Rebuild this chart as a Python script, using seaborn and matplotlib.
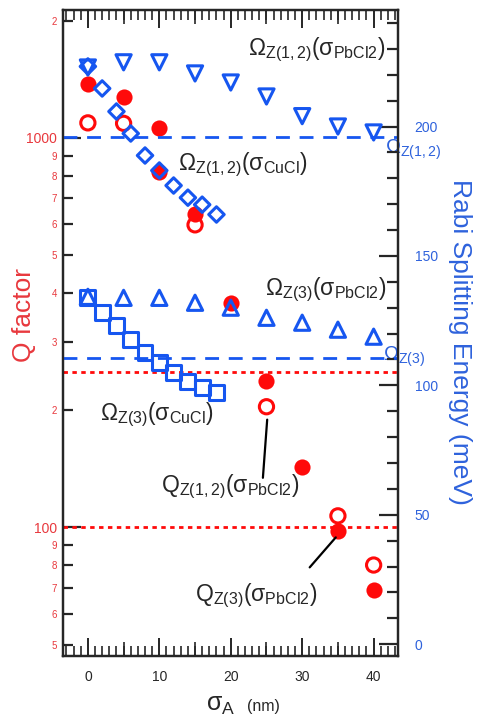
import matplotlib
matplotlib.use("Agg")
import matplotlib.pyplot as plt
import seaborn as sns
import numpy as np
import pandas as pd
from matplotlib.ticker import FixedLocator, FixedFormatter, NullFormatter, MultipleLocator

# ---------------- data ----------------
# Rabi splitting (right axis, meV)
x_pb = [0, 5, 10, 15, 20, 25, 30, 35, 40]
omega12_pb = [222.8, 224.8, 224.8, 220.5, 217.0, 211.6, 204.0, 200.0, 197.7]
omega3_pb = [134.2, 133.8, 133.8, 131.9, 130.0, 126.1, 124.2, 121.5, 118.8]

x_cu = [0, 2, 4, 6, 8, 10, 12, 14, 16, 18]
omega12_cu = [223.2, 214.7, 205.8, 197.3, 188.8, 183.0, 177.2, 172.5, 169.8, 166.0]
omega3_cu = [133.8, 128.0, 123.0, 117.6, 112.6, 108.7, 104.8, 101.4, 99.0, 97.1]

# Q factors (left axis, log)
x_q_filled = [0, 5, 10, 10, 15, 20, 25, 30, 35, 40]
q_filled = [1375, 1274, 1061, 818, 638, 377, 238, 143, 98, 69]
x_q_open = [0, 5, 15, 25, 35, 40]
q_open = [1093, 1090, 598, 204, 107, 80]

omega12_ref = 196.1
omega3_ref = 110.6
q_ref_lines = [251, 100]

x_ticks = [0, 10, 20, 30, 40]
right_ticks = [0, 50, 100, 150, 200]

RED = "#ff0a0a"
RED_TXT = "#e8383d"
BLUE = "#1656f0"
BLUE_TXT = "#2e62dc"

sns.set_style("ticks")
plt.rcParams["font.family"] = ["Liberation Sans", "DejaVu Sans"]
plt.rcParams["mathtext.fontset"] = "custom"
plt.rcParams["mathtext.rm"] = "Liberation Sans"
plt.rcParams["mathtext.it"] = "Liberation Sans"
plt.rcParams["mathtext.sf"] = "Liberation Sans"

fig = plt.figure(figsize=(4.8, 7.17), dpi=100)
ax = fig.add_axes([0.131, 0.085, 0.698, 0.901])
ax2 = ax.twinx()

# ---------- left axis (Q factor) ----------
ax.set_yscale("log")
ax.set_ylim(46.7, 2130)
ax.set_xlim(-3.5, 43.4)

for q in q_ref_lines:
    ax.axhline(q, color=RED, ls=(0, (1.6, 1.6)), lw=2.0, zorder=1)

sns.scatterplot(x=x_q_filled, y=q_filled, ax=ax, marker="o", s=135,
                color=RED, edgecolor=RED, linewidth=0, zorder=3)
sns.scatterplot(x=x_q_open, y=q_open, ax=ax, marker="o", s=105,
                facecolor="none", edgecolor=RED, linewidth=2.2, zorder=3)

ax.yaxis.set_major_locator(FixedLocator([100, 1000]))
ax.yaxis.set_major_formatter(FixedFormatter(["100", "1000"]))
minor_vals = [50, 60, 70, 80, 90, 200, 300, 400, 500, 600, 700, 800, 900, 2000]
minor_lbls = ["5", "6", "7", "8", "9", "2", "3", "4", "5", "6", "7", "8", "9", "2"]
ax.yaxis.set_minor_locator(FixedLocator(minor_vals))
ax.yaxis.set_minor_formatter(FixedFormatter(minor_lbls))
ax.tick_params(axis="y", which="major", direction="in", length=13, width=1.6,
               labelsize=10, labelcolor=RED_TXT, pad=4)
ax.tick_params(axis="y", which="minor", direction="in", length=7, width=1.6,
               labelsize=7, labelcolor=RED_TXT, pad=4)

ax.xaxis.set_major_locator(FixedLocator(x_ticks))
ax.xaxis.set_minor_locator(MultipleLocator(1))
ax.tick_params(axis="x", which="major", direction="in", length=13, width=1.4,
               labelsize=10, top=True, pad=10)
ax.tick_params(axis="x", which="minor", direction="in", length=7, width=1.2, top=True)

for side in ["bottom", "top"]:
    sec = ax.secondary_xaxis(side)
    sec.xaxis.set_major_locator(FixedLocator([5, 15, 25, 35]))
    sec.tick_params(direction="in", length=10, width=1.2, labelbottom=False, labeltop=False)
    sec.spines[side].set_visible(False)

for sp in ax.spines.values():
    sp.set_linewidth(1.6)
    sp.set_color("black")

ax.set_ylabel("Q factor", color=RED_TXT, fontsize=19, va="center")
ax.yaxis.set_label_coords(-0.115, 0.528)

# ---------- right axis (Rabi splitting) ----------
ax2.set_ylim(-4.6, 245)
ax2.axhline(omega12_ref, color=BLUE, ls=(0, (5, 3.5)), lw=2.0, zorder=1)
ax2.axhline(omega3_ref, color=BLUE, ls=(0, (5, 3.5)), lw=2.0, zorder=1)

sns.scatterplot(x=x_pb, y=omega12_pb, ax=ax2, marker="v", s=120,
                facecolor="none", edgecolor=BLUE, linewidth=2.2, zorder=4)
sns.scatterplot(x=x_pb, y=omega3_pb, ax=ax2, marker="^", s=120,
                facecolor="none", edgecolor=BLUE, linewidth=2.2, zorder=4)
sns.scatterplot(x=x_cu, y=omega12_cu, ax=ax2, marker="D", s=62,
                facecolor="none", edgecolor=BLUE, linewidth=2.2, zorder=4)
sns.scatterplot(x=x_cu, y=omega3_cu, ax=ax2, marker="s", s=115,
                facecolor="none", edgecolor=BLUE, linewidth=2.2, zorder=4)

ax2.yaxis.set_major_locator(FixedLocator(right_ticks))
ax2.yaxis.set_minor_locator(MultipleLocator(10))
ax2.yaxis.set_minor_formatter(NullFormatter())
ax2.tick_params(axis="y", which="major", direction="in", length=14, width=1.6,
                labelsize=10, labelcolor=BLUE_TXT, pad=12)
ax2.tick_params(axis="y", which="minor", direction="in", length=8, width=1.6)
for sp in ax2.spines.values():
    sp.set_linewidth(1.6)
ax2.set_ylabel("Rabi Splitting Energy (meV)", color=BLUE_TXT, fontsize=19,
               rotation=-90, va="center")
ax2.yaxis.set_label_coords(1.185, 0.486)

# ---------- annotations ----------
FS = 16.5
ax.text(22.4, 1681, r"$\Omega_{\rm Z(1,2)}(\sigma_{\rm PbCl2})$", fontsize=FS,
        ha="left", va="center", zorder=6)
ax.text(12.6, 853, r"$\Omega_{\rm Z(1,2)}(\sigma_{\rm CuCl})$", fontsize=FS,
        ha="left", va="center", zorder=6)
ax.text(24.8, 407, r"$\Omega_{\rm Z(3)}(\sigma_{\rm PbCl2})$", fontsize=FS,
        ha="left", va="center", zorder=6)
ax.text(1.7, 195, r"$\Omega_{\rm Z(3)}(\sigma_{\rm CuCl})$", fontsize=FS,
        ha="left", va="center", zorder=6)
ax.text(10.3, 127, r"$\rm Q_{Z(1,2)}(\sigma_{PbCl2})$", fontsize=FS,
        ha="left", va="center", zorder=6)
ax.text(15.0, 66.5, r"$\rm Q_{Z(3)}(\sigma_{PbCl2})$", fontsize=FS,
        ha="left", va="center", zorder=6)
ax.text(41.6, 931, r"$\Omega_{\rm Z(1,2)}$", fontsize=14.5, color=BLUE_TXT,
        ha="left", va="center", zorder=6, clip_on=False)
ax.text(41.3, 274, r"$\Omega_{\rm Z(3)}$", fontsize=14.5, color=BLUE_TXT,
        ha="left", va="center", zorder=6, clip_on=False)

ax.plot([24.5, 25.1], [134, 189], color="black", lw=1.6, zorder=5)
ax.plot([31.05, 34.7], [78.9, 94.2], color="black", lw=1.6, zorder=5)

# x label
fig.text(0.46, 0.0, r"$\sigma_{\rm A}$", fontsize=18, ha="center", va="bottom")
fig.text(0.548, 0.004, "(nm)", fontsize=11.5, ha="center", va="bottom")

fig.savefig("out.png", dpi=100)
